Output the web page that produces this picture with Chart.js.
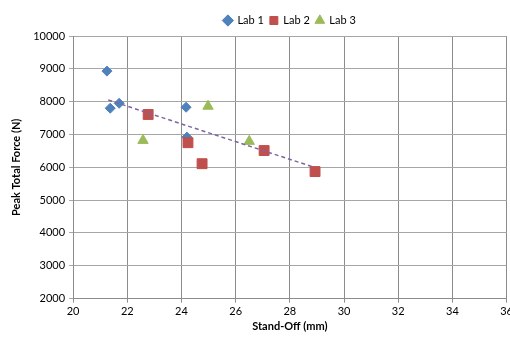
<!DOCTYPE html>
<html>
<head>
<meta charset="utf-8">
<script src="https://cdn.jsdelivr.net/npm/chart.js@4/dist/chart.umd.min.js"></script>
<style>
  body { margin: 0; background: #fff; overflow: hidden; }
  .clip { width: 510px; height: 338px; overflow: hidden; }
  .wrap { width: 515px; height: 338px; }
</style>
</head>
<body>
<div class="clip"><div class="wrap"><canvas id="myChart"></canvas></div></div>
<script>
// data
const lab1X = [21.25, 21.37, 21.7, 24.17, 24.2];
const lab1Y = [8930, 7800, 7950, 7830, 6920];
const lab2X = [22.77, 24.24, 24.76, 27.05, 28.93];
const lab2Y = [7610, 6750, 6110, 6510, 5870];
const lab3X = [22.58, 24.98, 26.5];
const lab3Y = [6820, 7860, 6790];
// trendline ends (linear fit in the original)
const trendX = [21.3, 28.9];
const trendY = [8050, 6000];

const xTicks = [20, 22, 24, 26, 28, 30, 32, 34, 36];
const yTicks = [2000, 3000, 4000, 5000, 6000, 7000, 8000, 9000, 10000];

function pts(xs, ys) {
  return xs.map((x, i) => ({ x: x, y: ys[i] }));
}

const FONT = 'Lato, "Liberation Sans", sans-serif';
Chart.defaults.font.family = FONT;
Chart.defaults.color = '#000';

const data = {
  datasets: [
    {
      label: 'Lab 1',
      data: pts(lab1X, lab1Y),
      pointStyle: 'rectRot',
      pointRadius: 5,
      backgroundColor: '#4F81BD',
      borderColor: '#4F81BD',
      order: 3
    },
    {
      label: 'Lab 2',
      data: pts(lab2X, lab2Y),
      pointStyle: 'rect',
      pointRadius: 7,
      backgroundColor: '#C0504D',
      borderColor: '#C0504D',
      order: 2
    },
    {
      label: 'Lab 3',
      data: pts(lab3X, lab3Y),
      pointStyle: 'triangle',
      pointRadius: 6,
      backgroundColor: '#9BBB59',
      borderColor: '#9BBB59',
      order: 1
    },
    {
      label: 'trend',
      data: pts(trendX, trendY),
      showLine: true,
      borderColor: '#8064A2',
      borderWidth: 1.5,
      borderDash: [4, 3],
      pointRadius: 0,
      order: 0
    }
  ]
};

const config = {
  type: 'scatter',
  data: data,
  options: {
    responsive: true,
    maintainAspectRatio: false,
    animation: false,
    layout: { padding: { left: 6, right: 0, top: 9, bottom: 5 } },
    plugins: {
      tooltip: { enabled: false },
      legend: {
        position: 'top',
        fullSize: false,
        labels: {
          usePointStyle: true,
          boxWidth: 8,
          boxHeight: 8,
          padding: 6,
          font: { size: 11 },
          filter: (item) => item.text !== 'trend',
          sort: (a, b) => a.datasetIndex - b.datasetIndex
        }
      }
    },
    scales: {
      x: {
        type: 'linear',
        min: 20,
        max: 36,
        afterBuildTicks: (axis) => { axis.ticks = xTicks.map(v => ({ value: v })); },
        ticks: { font: { size: 11 }, padding: 2, maxRotation: 0, callback: (v) => String(v) },
        grid: { color: '#8c8c8c', tickLength: 4 },
        border: { color: '#8c8c8c' },
        title: { display: true, text: 'Stand-Off (mm)', font: { size: 11, weight: 'bold' }, padding: { top: 0, bottom: 0 } }
      },
      y: {
        type: 'linear',
        min: 2000,
        max: 10000,
        afterBuildTicks: (axis) => { axis.ticks = yTicks.map(v => ({ value: v })); },
        ticks: { font: { size: 11 }, padding: 4, callback: (v) => String(v) },
        grid: { color: '#a6a6a6', tickLength: 4 },
        border: { color: '#8c8c8c' },
        title: { display: true, text: 'Peak Total Force (N)', font: { size: 11, weight: 'bold' }, padding: { bottom: 6 } }
      }
    }
  }
};

const myChart = new Chart(document.getElementById('myChart'), config);
</script>
</body>
</html>
